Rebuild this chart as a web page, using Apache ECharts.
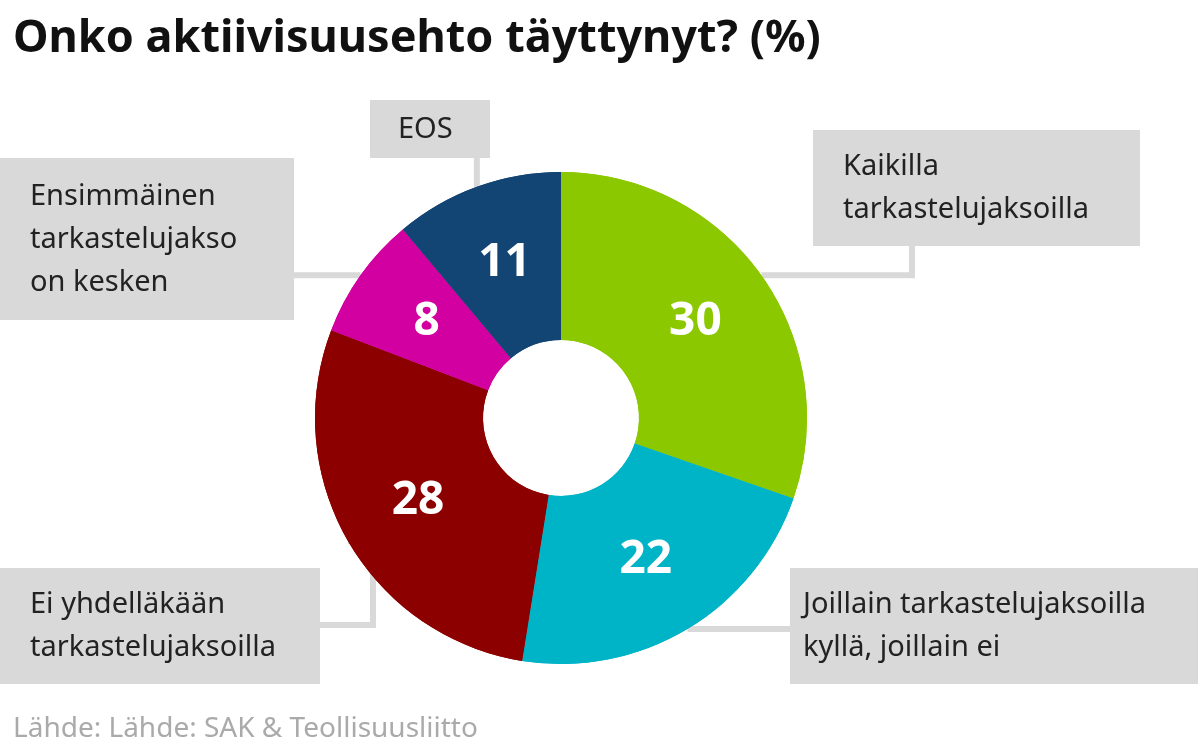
<!DOCTYPE html>
<html><head><meta charset="utf-8">
<script src="https://cdn.jsdelivr.net/npm/echarts@6/dist/echarts.min.js"></script>
<style>html,body{margin:0;padding:0;background:#fff}#c{width:1199px;height:755px}</style>
</head><body><div id="c"></div>
<script>
const categories = ["Kaikilla\ntarkastelujaksoilla","Joillain tarkastelujaksoilla\nkyllä, joillain ei","Ei yhdelläkään\ntarkastelujaksoilla","Ensimmäinen\ntarkastelujakso\non kesken","EOS"];
const values = [30,22,28,8,11];
const colors = ["#8cc800","#00b4c8","#8c0000","#d200a0","#124573"];
const boxes = [
  {x:813,y:130,w:267,pad:[15,30,15,30]},
  {x:790,y:568,w:382,pad:[15,13,15,13]},
  {x:0,y:568,w:260,pad:[15,30,15,30]},
  {x:0,y:158,w:234,pad:[17,30,16,30]},
  {x:370,y:100,w:64,pad:[8,28,7,28]}
];
const F = "'Noto Sans', sans-serif";
const chart = echarts.init(document.getElementById('c'));
const data = values.map((v,i)=>({value:v,name:categories[i],itemStyle:{color:colors[i]},
  label:{width:boxes[i].w,padding:boxes[i].pad}}));
chart.setOption({
  animation:false,
  title:[{text:"Onko aktiivisuusehto täyttynyt? (%)",left:8,top:12,textStyle:{fontFamily:F,fontWeight:'bold',fontSize:45,color:'#111'}},
         {text:"Lähde: Lähde: SAK & Teollisuusliitto",left:8,top:710,textStyle:{fontFamily:F,fontWeight:'normal',fontSize:28,color:'#aaa'}}],
  series:[{
    type:'pie',radius:[78,246],center:[561,418],startAngle:90,silent:true,
    data:data,
    itemStyle:{borderColor:'#fff',borderWidth:0},
    label:{show:true,position:'outside',formatter:'{b}',fontFamily:F,fontSize:29,color:'#222',lineHeight:43,backgroundColor:'#d9d9d9',align:'left'},
    labelLine:{show:true,lineStyle:{color:'#d9d9d9',width:6}},
    labelLayout:function(p){
      const i=p.dataIndex,b=boxes[i];
      const h=p.labelRect.height;
      const p0=p.labelLinePoints?p.labelLinePoints[0]:[0,0];
      let pts;
      if(i===0) pts=[p0,[912,p0[1]],[912,b.y+h-4]];
      else if(i===1) pts=[p0,[b.x+4,p0[1]]];
      else if(i===2) pts=[p0,[p0[0]+25,p0[1]],[p0[0]+25,625],[316,625]];
      else if(i===3) pts=[p0,[290,p0[1]]];
      else pts=[p0,[p0[0],b.y+h-4]];
      return {x:b.x,y:b.y,align:'left',verticalAlign:'top',labelLinePoints:pts};
    }
  },{
    type:'pie',radius:[78,246],center:[561,418],startAngle:90,silent:true,
    data:values.map((v,i)=>({value:v,name:categories[i],itemStyle:{color:colors[i]}})),
    label:{show:true,position:'inside',formatter:'{c}',fontFamily:F,fontWeight:'bold',fontSize:46,color:'#fff'},
    labelLine:{show:false}
  }]
});
</script></body></html>
